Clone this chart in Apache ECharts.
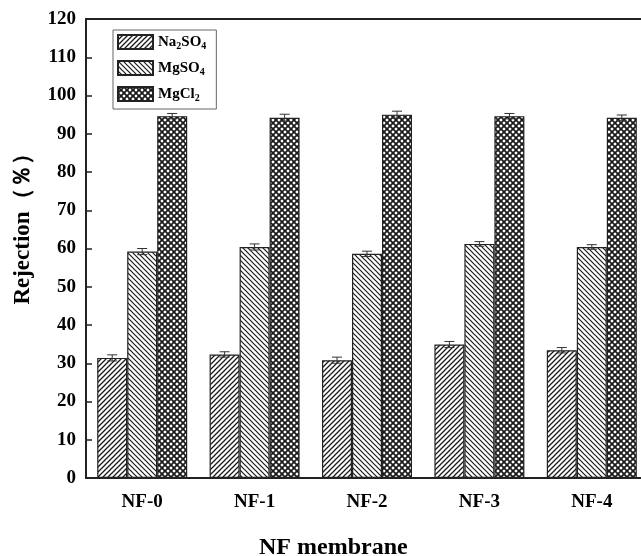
<!DOCTYPE html>
<html>
<head>
<meta charset="utf-8">
<script src="https://cdn.jsdelivr.net/npm/echarts@6/dist/echarts.min.js"></script>
<style>
  html, body { margin: 0; padding: 0; background: #fff; }
  #main { width: 641px; height: 556px; }
</style>
</head>
<body>
<div id="main"></div>
<script>
var categories = ['NF-0', 'NF-1', 'NF-2', 'NF-3', 'NF-4'];
var na2so4 = [31.4, 32.3, 30.8, 34.9, 33.4];
var mgso4 = [59.2, 60.4, 58.6, 61.2, 60.4];
var mgcl2 = [94.6, 94.2, 95.0, 94.6, 94.2];
var na2so4Err = [0.8, 0.7, 0.8, 0.8, 0.7];
var mgso4Err = [0.8, 0.8, 0.7, 0.6, 0.6];
var mgcl2Err = [0.7, 0.9, 0.9, 0.7, 0.7];

// hatch fills
function hatch(size, kind, lw) {
    var c = document.createElement('canvas');
    c.width = size; c.height = size;
    var ctx = c.getContext('2d');
    ctx.fillStyle = '#fff';
    ctx.fillRect(0, 0, size, size);
    ctx.strokeStyle = '#1a1a1a';
    ctx.lineWidth = lw;
    function fwd() {
        ctx.beginPath();
        ctx.moveTo(-1, size + 1); ctx.lineTo(size + 1, -1);
        ctx.moveTo(-1, 1); ctx.lineTo(1, -1);
        ctx.moveTo(size - 1, size + 1); ctx.lineTo(size + 1, size - 1);
        ctx.stroke();
    }
    function back() {
        ctx.beginPath();
        ctx.moveTo(-1, -1); ctx.lineTo(size + 1, size + 1);
        ctx.moveTo(size - 1, -1); ctx.lineTo(size + 1, 1);
        ctx.moveTo(-1, size - 1); ctx.lineTo(1, size + 1);
        ctx.stroke();
    }
    if (kind == 'fwd') fwd();
    if (kind == 'back') back();
    if (kind == 'cross') { fwd(); back(); }
    return { image: c, repeat: 'repeat' };
}

var fills = [hatch(5, 'fwd', 1.3), hatch(5, 'back', 1.2), hatch(6, 'cross', 1.7)];
var names = ['Na2SO4', 'MgSO4', 'MgCl2'];
var values = [na2so4, mgso4, mgcl2];
var errs = [na2so4Err, mgso4Err, mgcl2Err];
var barW = 30;

var font = '"Liberation Serif", "Times New Roman", serif';

var series = [];
names.forEach(function (n, i) {
    series.push({
        name: n,
        type: 'bar',
        barWidth: barW,
        barGap: '0%',
        itemStyle: { color: fills[i], borderColor: '#222', borderWidth: 1.2 },
        data: values[i]
    });
});
names.forEach(function (n, i) {
    var d = values[i].map(function (v, k) { return [k, v, errs[i][k]]; });
    series.push({
        type: 'custom',
        name: n + '_err',
        z: 5,
        encode: { x: 0, y: 1 },
        data: d,
        renderItem: function (params, api) {
            var k = api.value(0);
            var lo = api.coord([k, api.value(1) - api.value(2)]);
            var hi = api.coord([k, api.value(1) + api.value(2)]);
            var x = lo[0] + (i - 1) * barW;
            var style = { stroke: '#333', lineWidth: 1 };
            return {
                type: 'group',
                children: [
                    { type: 'line', shape: { x1: x, y1: lo[1], x2: x, y2: hi[1] }, style: style },
                    { type: 'line', shape: { x1: x - 5, y1: hi[1], x2: x + 5, y2: hi[1] }, style: style },
                    { type: 'line', shape: { x1: x - 5, y1: lo[1], x2: x + 5, y2: lo[1] }, style: style }
                ]
            };
        }
    });
});

var chart = echarts.init(document.getElementById('main'));
var option = {
    animation: false,
    backgroundColor: '#fff',
    grid: { left: 86, top: 19, width: 562, height: 459, outerBoundsMode: 'none', containLabel: false },
    legend: {
        data: names,
        orient: 'vertical',
        left: 113,
        top: 30,
        icon: 'rect',
        itemWidth: 35,
        itemHeight: 14,
        itemGap: 9,
        padding: [4, 10, 6, 4],
        borderColor: '#666',
        borderWidth: 1,
        formatter: function (n) {
            if (n == 'Na2SO4') return '{b|Na}{s|2}{b|SO}{s|4}';
            if (n == 'MgSO4') return '{b|MgSO}{s|4}';
            return '{b|MgCl}{s|2}';
        },
        textStyle: {
            rich: {
                b: { fontFamily: font, fontWeight: 'bold', fontSize: 15, color: '#000' },
                s: { fontFamily: font, fontWeight: 'bold', fontSize: 10, color: '#000', verticalAlign: 'bottom', padding: [8, 0, 0, 0] }
            }
        }
    },
    xAxis: [{
        type: 'category',
        data: categories,
        axisTick: { show: false },
        axisLine: { lineStyle: { color: '#222', width: 2 } },
        axisLabel: { fontFamily: font, fontWeight: 'bold', fontSize: 19, color: '#000', margin: 15 }
    }, {
        type: 'category',
        data: categories,
        position: 'top',
        axisTick: { show: false },
        axisLabel: { show: false },
        axisLine: { lineStyle: { color: '#222', width: 2 } }
    }],
    yAxis: {
        type: 'value',
        min: 0,
        max: 120,
        interval: 10,
        name: 'Rejection（％）',
        nameLocation: 'middle',
        nameGap: 51,
        nameTextStyle: { fontFamily: font, fontWeight: 'bold', fontSize: 23, color: '#000', padding: [0, 0, 0, 50] },
        splitLine: { show: false },
        axisLine: { show: true, lineStyle: { color: '#222', width: 2 } },
        axisTick: { show: true, inside: true, length: 6, lineStyle: { color: '#222', width: 1.5 } },
        axisLabel: { fontFamily: font, fontWeight: 'bold', fontSize: 19, color: '#000', margin: 10 }
    },
    graphic: [{
        type: 'text',
        left: 259,
        top: 536,
        style: { text: 'NF membrane', fontFamily: font, fontWeight: 'bold', fontSize: 24, fill: '#000' }
    }],
    series: series
};
chart.setOption(option);
</script>
</body>
</html>
